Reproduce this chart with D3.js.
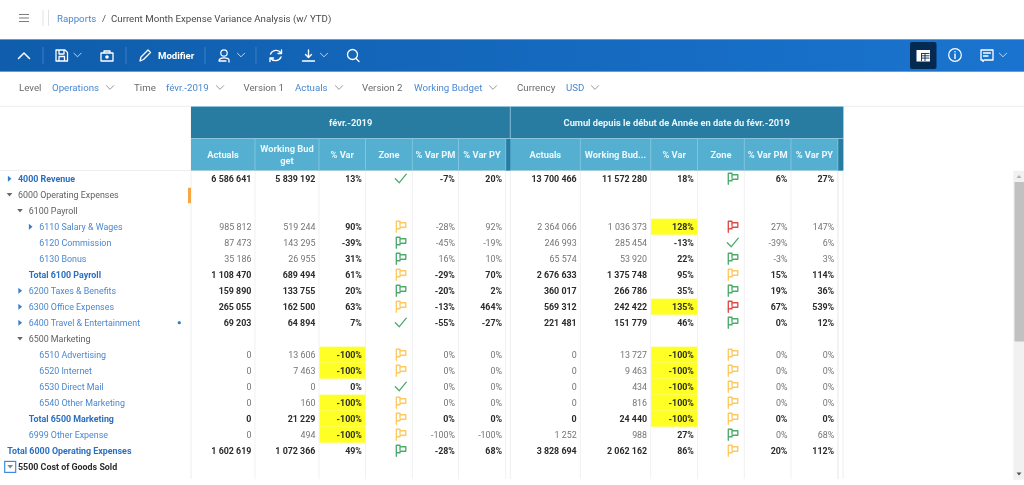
<!DOCTYPE html>
<html><head><meta charset="utf-8">
<script src="https://cdn.jsdelivr.net/npm/d3@7"></script>
<style>html,body{margin:0;padding:0;background:#fff;overflow:hidden}svg{display:block;font-family:Roboto,sans-serif;filter:blur(0.3px)}</style>
</head><body><svg id="c" width="1024" height="485"></svg>
<script>
const rowLabels=["4000 Revenue","6000 Operating Expenses","6100 Payroll","6110 Salary & Wages","6120 Commission","6130 Bonus","Total 6100 Payroll","6200 Taxes & Benefits","6300 Office Expenses","6400 Travel & Entertainment","6500 Marketing","6510 Advertising","6520 Internet","6530 Direct Mail","6540 Other Marketing","Total 6500 Marketing","6999 Other Expense","Total 6000 Operating Expenses","5500 Cost of Goods Sold"];
const rowIndent=[1,1,2,3,3,3,2,2,2,2,2,3,3,3,3,2,2,0,1];
const rowKind=["total","group","group","link","link","link","total","link","link","link","group","link","link","link","link","total","link","total","dark"];
const rowToggle=["r","d","d","r","","","","r","r","r","d","","","","","","","",""];
const rowBold=[1,0,0,0,0,0,1,1,1,1,0,0,0,0,0,1,0,1,0];
const actuals=[6586641,null,null,985812,87473,35186,1108470,159890,265055,69203,null,0,0,0,0,0,0,1602619,null];
const budget=[5839192,null,null,519244,143295,26955,689494,133755,162500,64894,null,13606,7463,0,160,21229,494,1072366,null];
const varPct=[13,null,null,90,-39,31,61,20,63,7,null,-100,-100,0,-100,-100,-100,49,null];
const zone=["check",null,null,"yellow","green","green","yellow","green","yellow","check",null,"yellow","yellow","check","yellow","yellow","yellow","green",null];
const varPM=[-7,null,null,-28,-45,16,-29,-20,-13,-55,null,0,0,0,0,0,-100,-28,null];
const varPY=[20,null,null,92,-19,10,70,2,464,-27,null,0,0,0,0,0,-100,68,null];
const ytdActuals=[13700466,null,null,2364066,246993,65574,2676633,360017,569312,221481,null,0,0,0,0,0,1252,3828694,null];
const ytdBudget=[11572280,null,null,1036373,285454,53920,1375748,266786,242422,151779,null,13727,9463,434,816,24440,988,2062162,null];
const ytdVar=[18,null,null,128,-13,22,95,35,135,46,null,-100,-100,-100,-100,-100,27,86,null];
const ytdZone=["green",null,null,"red","check","green","yellow","green","red","green",null,"yellow","yellow","yellow","yellow","yellow","green","yellow",null];
const ytdPM=[6,null,null,27,-39,-3,15,19,67,0,null,0,0,0,0,0,0,20,null];
const ytdPY=[27,null,null,147,6,3,114,36,539,12,null,0,0,0,0,0,68,112,null];
const periodHeads=["févr.-2019","Cumul depuis le début de Année en date du févr.-2019"];
const colHeads=[["Actuals"],["Working Bud","get"],["% Var"],["Zone"],["% Var PM"],["% Var PY"],["Actuals"],["Working Bud..."],["% Var"],["Zone"],["% Var PM"],["% Var PY"]];
const colEdges=[191,255,319,365.5,412.3,458.5,505.7,510.3,580.3,650.7,697.5,744.3,791,837.8,843];
const filterLabels=["Level","Time","Version 1","Version 2","Currency"];
const filterValues=["Operations","févr.-2019","Actuals","Working Budget","USD"];

const svg=d3.select("#c");
const fmt=d3.formatLocale({decimal:",",thousands:" ",grouping:[3],currency:["",""]}).format(",d");
const y=d3.scaleBand().domain(d3.range(rowLabels.length)).range([170.7,474.7]);
const rc=i=>y(i)+y.bandwidth()/2;
const cols=[
 {k:"n",v:actuals,e:0},{k:"n",v:budget,e:1},{k:"p",v:varPct,e:2},{k:"z",v:zone,e:3},{k:"m",v:varPM,e:4},{k:"m",v:varPY,e:5},
 {k:"n",v:ytdActuals,e:7},{k:"n",v:ytdBudget,e:8},{k:"p",v:ytdVar,e:9},{k:"z",v:ytdZone,e:10},{k:"m",v:ytdPM,e:11},{k:"m",v:ytdPY,e:12}];
const GREY="#747474",DARK="#2b2b2b",LINK="#4a87d0",BOLDLINK="#2a6fc0",GROUP="#5f5f5f";
const CELL=8.9,HEAD=9.3,CHROME=9.7;

function text(g,x,yy,s,o={}){return g.append("text").attr("x",x).attr("y",yy).attr("dy","0.35em").attr("font-size",o.size||CELL).attr("font-weight",o.w||400).attr("fill",o.c||DARK).attr("text-anchor",o.a||"start").text(s);}
function stroke(g,d,c="#fff",w=1.3){return g.append("path").attr("d",d).attr("fill","none").attr("stroke",c).attr("stroke-width",w).attr("stroke-linecap","round").attr("stroke-linejoin","round");}
function chev(g,cx,cy,c,up){const s=up?-1:1;stroke(g,`M${cx-3.6} ${cy-1.8*s}L${cx} ${cy+1.8*s}L${cx+3.6} ${cy-1.8*s}`,c,0.9);}

// title bar
const titleBar=svg.append("g");
titleBar.append("path").attr("d","M19 14.5H29M19 18H29M19 21.5H29").attr("stroke","#7b7b7b").attr("stroke-width",1.2);
titleBar.append("path").attr("d","M43 10V26M48.5 10V26").attr("stroke","#e2e2e2");
text(titleBar,57,18.5,"Rapports",{c:LINK,size:CHROME});
text(titleBar,102,18.5,"/",{c:"#555",size:CHROME});
text(titleBar,111,18.5,"Current Month Expense Variance Analysis (w/ YTD)",{c:"#4a4a4a",size:CHROME});

// toolbar
const defs=svg.append("defs");
const gr=defs.append("linearGradient").attr("id","tb");
gr.append("stop").attr("offset","0").attr("stop-color","#0f5dab");
gr.append("stop").attr("offset","1").attr("stop-color","#1a74cf");
const tb=svg.append("g");
tb.append("rect").attr("y",39.5).attr("width",1024).attr("height",32).attr("fill","url(#tb)");
tb.append("path").attr("d","M0 39.5H1024M0 71.5H1024").attr("stroke","#5a97d6").attr("stroke-width",.8);
tb.append("path").attr("d","M43 47V64M126 47V64M205 47V64M256 47V64").attr("stroke","#3a7fc6");
stroke(tb,"M18.5 58.5L24 53L29.5 58.5",undefined,1.5);
stroke(tb,"M56 50H65L67.5 52.5V61H56ZM59 50V54H64V50M59 61V56.5H64.5V61");chev(tb,77.5,55,"#cfe2f5");
stroke(tb,"M101 53H113V61H101ZM104 53V51H110V53");tb.append("circle").attr("cx",107).attr("cy",57).attr("r",1.8).attr("fill","#fff");
stroke(tb,"M140 61L141 57L148 50L150.5 52.5L143.5 59.5Z");
text(tb,158,56,"Modifier",{c:"#fff",w:700,size:9.6});
tb.append("circle").attr("cx",224).attr("cy",53).attr("r",3.2).attr("fill","none").attr("stroke","#fff").attr("stroke-width",1.2);
stroke(tb,"M219 61C219 57 229 57 229 60M219 61H226M229 60V62");chev(tb,241,55,"#cfe2f5");
stroke(tb,"M270.5 54A6 6 0 0 1 281 53M281.5 50V53.5H278M281 57A6 6 0 0 1 270.5 58M270 61.5V58H273.5",undefined,1.4);
stroke(tb,"M308.5 50V57M305.5 54.5L308.5 57.5L311.5 54.5M302.5 61H314.5",undefined,1.4);chev(tb,324,55,"#cfe2f5");
tb.append("circle").attr("cx",352.5).attr("cy",54.5).attr("r",5).attr("fill","none").attr("stroke","#fff").attr("stroke-width",1.3);
stroke(tb,"M356 58.5L359 61.5");
tb.append("rect").attr("x",910).attr("y",42).attr("width",26.5).attr("height",27).attr("rx",2).attr("fill","#052a52");
tb.append("rect").attr("x",916.5).attr("y",50).attr("width",13.5).attr("height",11.5).attr("fill","#fff");
tb.append("path").attr("d","M921.5 53.5H929.5M921.5 55.8H929.5M921.5 58.1H929.5M925 53V61M921.5 53V61").attr("stroke","#052a52").attr("stroke-width",.9);
tb.append("circle").attr("cx",955).attr("cy",55).attr("r",6.3).attr("fill","none").attr("stroke","#fff").attr("stroke-width",1.2);
stroke(tb,"M955 54V58.5",undefined,1.4);tb.append("circle").attr("cx",955).attr("cy",51.8).attr("r",.8).attr("fill","#fff");
stroke(tb,"M981 50H993V60H984L983 61.5L982.5 60H981ZM983.5 53H990.5M983.5 56H988");chev(tb,1003,55,"#cfe2f5");

// filters
const filt=svg.append("g");
const fLabelX=[19,134,243.5,362,517],fValX=[52,166,295,414,566],fChevX=[110,220,339,493,595];
filterLabels.forEach((s,i)=>{
 text(filt,fLabelX[i],88,s,{c:"#6a6a6a",size:CHROME});
 text(filt,fValX[i],88,filterValues[i],{c:LINK,size:CHROME});
 chev(filt,fChevX[i],87.5,"#8a8a8a");
});

// frame
const grid=svg.append("g");
grid.append("path").attr("d","M0 106.3H191M843 106.3H1024M0 170.5H191").attr("stroke","#eeeeee");

// header bands
const head=svg.append("g");
head.append("rect").attr("x",colEdges[0]).attr("y",106.5).attr("width",colEdges[14]-colEdges[0]).attr("height",32).attr("fill","#287ca1");
head.append("rect").attr("x",colEdges[0]).attr("y",138.5).attr("width",colEdges[14]-colEdges[0]).attr("height",32).attr("fill","#55afd0");
head.append("rect").attr("x",colEdges[6]).attr("y",138.5).attr("width",colEdges[7]-colEdges[6]).attr("height",32).attr("fill","#287ca1");
head.append("rect").attr("x",colEdges[13]).attr("y",138.5).attr("width",colEdges[14]-colEdges[13]).attr("height",32).attr("fill","#287ca1");
head.append("path").attr("d",`M191 138.5H843M${colEdges[7]} 106.5V138.5M843.5 106.5V170.5M191 106.5H843`).attr("stroke","#8fc6dc").attr("stroke-width",.9);
cols.forEach(c=>{const xr=colEdges[c.e+1];
 head.append("path").attr("d",`M${xr} 138.5V170.5`).attr("stroke","#8cc9df").attr("stroke-width",.8);
});
text(head,(colEdges[0]+colEdges[7])/2,122.5,periodHeads[0],{c:"#eaf5fa",w:700,a:"middle",size:HEAD});
text(head,(colEdges[7]+colEdges[14])/2,122.5,periodHeads[1],{c:"#eaf5fa",w:700,a:"middle",size:HEAD});
cols.forEach((c,i)=>{
 const cx=(colEdges[c.e]+colEdges[c.e+1])/2,lines=colHeads[i];
 lines.forEach((l,j)=>text(head,cx,154.5+(j-(lines.length-1)/2)*12,l,{c:"#eef8fb",w:700,a:"middle",size:HEAD}));
});

// grid lines
cols.forEach(c=>{
 const xr=colEdges[c.e+1];
 grid.append("path").attr("d",`M${xr} 170.7V479`).attr("stroke","#f0f1f3");
});
grid.append("path").attr("d",`M191 106V479M510.3 170.7V479M843 170.7V479M838 170.7V479`).attr("stroke","#eceef0");
grid.append("path").attr("d","M0 170.5H843").attr("stroke","#eeeeee");

// highlight cells
const body=svg.append("g");
cols.filter(c=>c.k==="p").forEach(c=>{
 body.selectAll(null).data(c.v.map((v,i)=>({v,i})).filter(d=>d.v!==null&&Math.abs(d.v)>=100)).join("rect")
  .attr("x",colEdges[c.e]+.5).attr("width",colEdges[c.e+1]-colEdges[c.e]-1)
  .attr("y",d=>y(d.i)).attr("height",y.bandwidth()).attr("fill","#ffff26");
});

// row labels
rowLabels.forEach((s,i)=>{
 const kind=rowKind[i],ind=rowIndent[i];
 const tx=[7.3,18,28.7,39.3][ind];
 const c=kind==="total"?BOLDLINK:kind==="link"?LINK:kind==="dark"?DARK:GROUP;
 const w=(kind==="total"||kind==="dark")?700:400;
 text(body,tx,rc(i),s,{c,w});
 const t=rowToggle[i];
 const ax=[9.5,9.5,20,30.5][ind];
 if(t==="r")body.append("path").attr("d",`M${ax-1.6} ${rc(i)-3}L${ax+2} ${rc(i)}L${ax-1.6} ${rc(i)+3}Z`).attr("fill","#2f7fd0");
 if(t==="d")body.append("path").attr("d",`M${ax-2.8} ${rc(i)-1.6}L${ax+2.8} ${rc(i)-1.6}L${ax} ${rc(i)+1.8}Z`).attr("fill","#666");
});
const last=rowLabels.length-1;
body.append("rect").attr("x",4.7).attr("y",rc(last)-5.3).attr("width",11).attr("height",11).attr("fill","none").attr("stroke","#3f8ae0").attr("stroke-width",1.2);
body.append("path").attr("d",`M${7.2} ${rc(last)-1.6}L${13.2} ${rc(last)-1.6}L${10.2} ${rc(last)+1.9}Z`).attr("fill","#888");
body.append("rect").attr("x",188).attr("y",y(1)+1).attr("width",3).attr("height",15.5).attr("fill","#f4a742");
body.append("circle").attr("cx",179.3).attr("cy",rc(9)).attr("r",1.6).attr("fill","#2f7fd0");

// zone icons
const zoneColor={green:"#4cab6c",yellow:"#fdc95e",red:"#dd4b45"};
function flag(g,cx,cy,c){stroke(g,`M${cx-4.5} ${cy+5.5}V${cy-5.5}H${cx-0.8}V${cy-4}H${cx+5}V${cy+0.5}H${cx-0.8}V${cy+2}H${cx-4.5}M${cx-0.8} ${cy-4}V${cy-1}`,c,1.35);}
function check(g,cx,cy){stroke(g,`M${cx-5.5} ${cy}L${cx-1.5} ${cy+4}L${cx+5.5} ${cy-4.5}`,"#4cab6c",1.3);}

// cell values
const pct=v=>v+"%";
cols.forEach(c=>{
 const xr=colEdges[c.e+1];
 c.v.forEach((v,i)=>{
  if(v===null)return;
  if(c.k==="z"){ v==="check"?check(body,xr-11.5,rc(i)):flag(body,xr-11.5,rc(i),zoneColor[v]); return; }
  const bold=c.k==="p"||rowBold[i];
  const s=c.k==="n"?fmt(v):pct(v);
  text(body,xr-3.6,rc(i),s,{a:"end",w:bold?700:400,c:bold?DARK:GREY});
 });
});

// scrollbar
const sb=svg.append("g");
sb.append("rect").attr("x",1013.3).attr("y",170.7).attr("width",10.7).attr("height",309).attr("fill","#f1f1f1");
sb.append("rect").attr("x",1014.5).attr("y",182).attr("width",9.5).attr("height",159.5).attr("fill","#c1c1c1");
sb.append("path").attr("d","M1016.5 178L1019 175L1021.5 178Z").attr("fill","#b0b0b0");
sb.append("path").attr("d","M1016.5 472.5L1019 475.5L1021.5 472.5Z").attr("fill","#555");
</script></body></html>
